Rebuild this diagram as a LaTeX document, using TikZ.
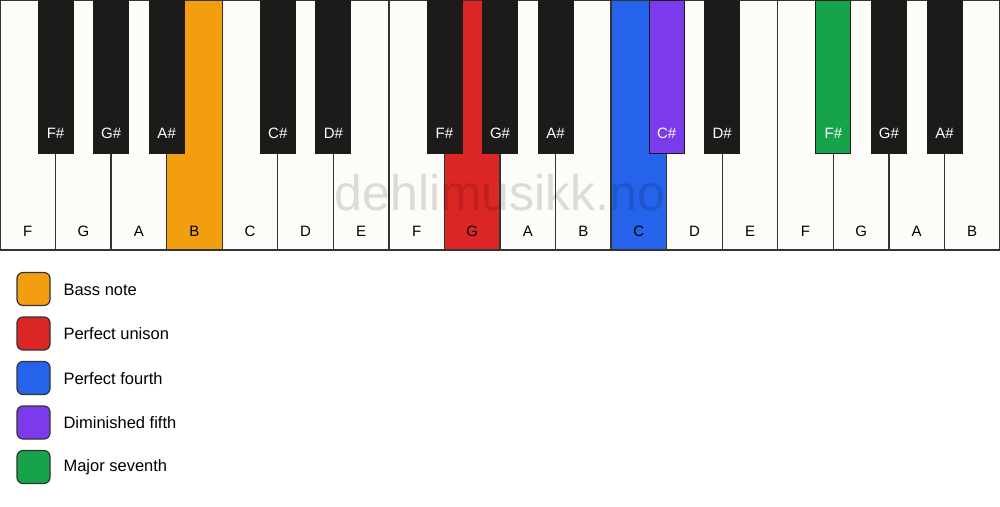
\documentclass[tikz,border=0pt]{standalone}
\usepackage{fontspec}
\setmainfont{Liberation Sans}
\definecolor{ivory}{HTML}{FDFCF9}
\definecolor{ebony}{HTML}{1C1B1A}
\definecolor{edge}{HTML}{333333}
\definecolor{bassnote}{HTML}{F39E0E}
\definecolor{unison}{HTML}{DC2626}
\definecolor{fourth}{HTML}{2563EB}
\definecolor{dimfifth}{HTML}{7C3AED}
\definecolor{seventh}{HTML}{16A34A}
\tikzset{
  whitekey/.style={draw=edge, line width=1.3},
  blackkey/.style={draw=ebony, line width=0.8},
  whitename/.style={font=\fontsize{15}{15}\selectfont, text=black},
  blackname/.style={font=\fontsize{15}{15}\selectfont, text=white},
  swatch/.style={draw=edge, line width=1.2, rounded corners=6},
  legendtext/.style={anchor=west, font=\fontsize{16.5}{16.5}\selectfont},
}
\begin{document}
\begin{tikzpicture}[x=1pt,y=-1pt]
  \useasboundingbox (0,0) rectangle (1000,506);
  \fill[white] (0,0) rectangle (1000,506);
  % white keys
  \foreach \n/\c [count=\i from 0] in {F/ivory,G/ivory,A/ivory,B/bassnote,C/ivory,D/ivory,E/ivory,
      F/ivory,G/unison,A/ivory,B/ivory,C/fourth,D/ivory,E/ivory,F/ivory,G/ivory,A/ivory,B/ivory} {
    \draw[whitekey, fill=\c] (\i*55.556,0) rectangle ++(55.556,250);
    \node[whitename] (w\i) at (\i*55.556+27.778,231) {\n};
  }
  % black keys
  \foreach \p/\n/\c in {1/F\#/ebony,2/G\#/ebony,3/A\#/ebony,5/C\#/ebony,6/D\#/ebony,
      8/F\#/ebony,9/G\#/ebony,10/A\#/ebony,12/C\#/dimfifth,13/D\#/ebony,
      15/F\#/seventh,16/G\#/ebony,17/A\#/ebony} {
    \draw[blackkey, fill=\c] (\p*55.556-17.5,0) rectangle ++(35,153);
    \node[blackname] (b\p) at (\p*55.556,133) {\n};
  }
  % watermark
  \node[font=\fontsize{50}{50}\selectfont, text=black, text opacity=0.13] (mark) at (500,193) {dehlimusikk.no};
  % legend
  \foreach \c/\t [count=\k from 0] in {bassnote/Bass note,unison/Perfect unison,fourth/Perfect fourth,
      dimfifth/Diminished fifth,seventh/Major seventh} {
    \draw[swatch, fill=\c] (17,272.5+\k*44.5) rectangle ++(33,33);
    \node[legendtext] (l\k) at (60,289.5+\k*44.5) {\t};
  }
\end{tikzpicture}
\end{document}
